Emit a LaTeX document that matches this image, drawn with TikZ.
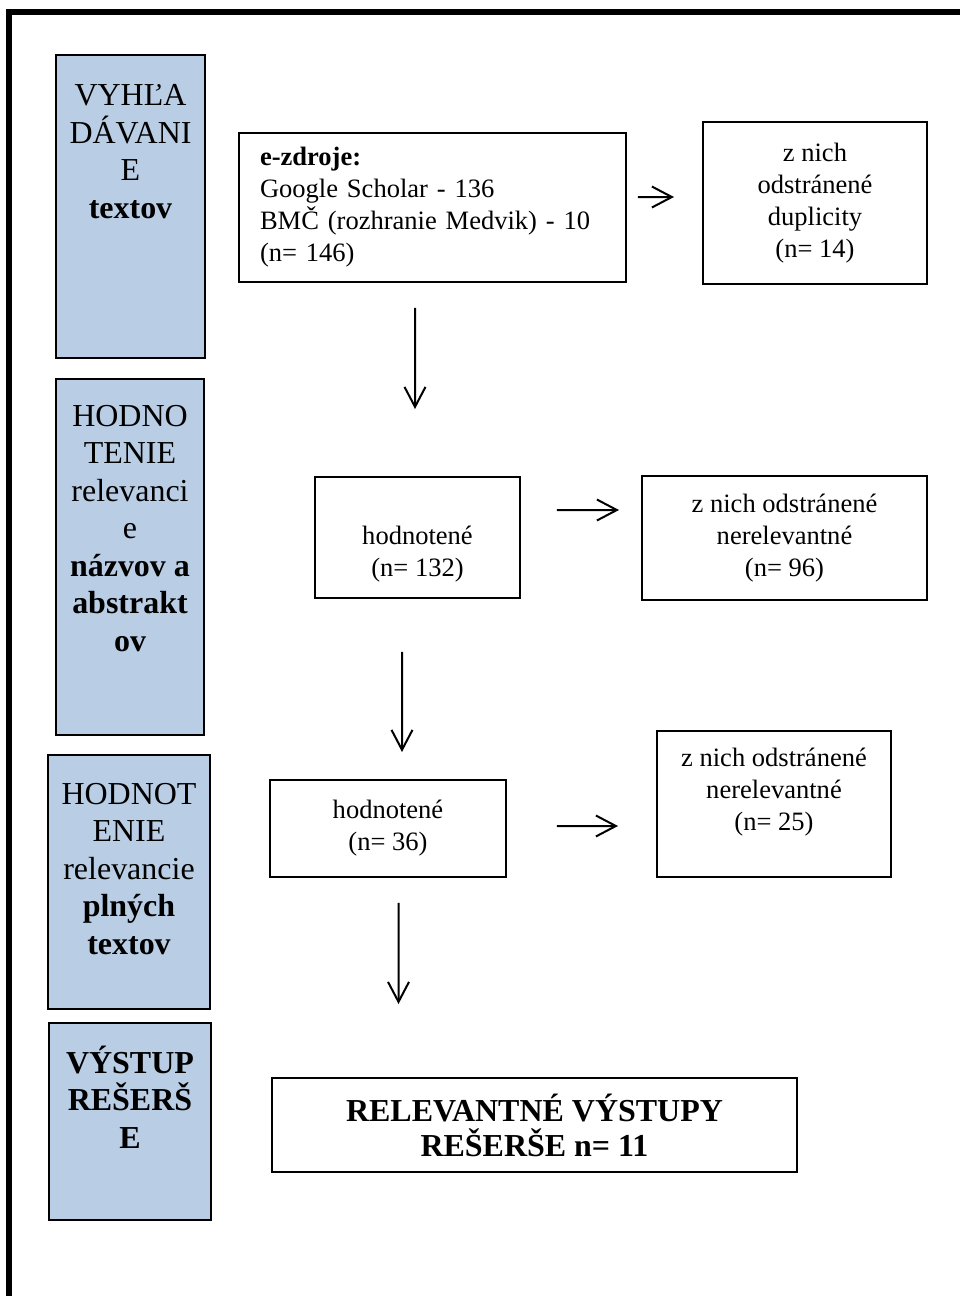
\documentclass[tikz,border=0pt]{standalone}
\usepackage{fontspec}
\setmainfont{Liberation Serif}
\usetikzlibrary{arrows.meta}
\definecolor{phaseblue}{RGB}{185,205,228}
\newcommand{\phasefont}{\fontsize{18.2}{21.3}\selectfont}
\newcommand{\boxfont}{\fontsize{15.1}{18.2}\selectfont}
\newcommand{\outfont}{\fontsize{18.2}{19.9}\selectfont\bfseries}

\begin{document}
\begin{tikzpicture}[
    x=0.02cm, y=-0.02cm,
    frame/.style={draw, line width=0.11cm},
    phase/.style={rectangle, draw, line width=0.045cm, fill=phaseblue, inner sep=0pt},
    phasetext/.style={anchor=base, align=center, font=\phasefont, inner sep=0pt},
    item/.style={rectangle, draw, line width=0.04cm, align=center, font=\boxfont, inner sep=0pt},
    itemtext/.style={anchor=base, align=center, font=\boxfont, inner sep=0pt},
    arrow/.style={-{Straight Barb[length=0.4cm, width=0.42cm]}, line width=0.04cm}
]

% Page and outer frame
\useasboundingbox (0,0) rectangle (960,1296);
\clip (0,0) rectangle (960,1296);
\draw[frame] (9,12) rectangle (1100,1400);

% Left column: phases (labels placed by their last baseline)
\node[phase, minimum width=2.98cm, minimum height=6.06cm] (search) at (130.5,206.5) {};
\node[phasetext] (searchlbl) at (130.5,218) {VYHĽA\\DÁVANI\\E\\\textbf{textov}};

\node[phase, minimum width=2.96cm, minimum height=7.12cm] (screen) at (130,557) {};
\node[phasetext] (screenlbl) at (130,651) {HODNO\\TENIE\\relevanci\\e\\\textbf{názvov a}\\\textbf{abstrakt}\\\textbf{ov}};

\node[phase, minimum width=3.24cm, minimum height=5.08cm] (fulltext) at (129,882) {};
\node[phasetext] (fulltextlbl) at (129,954) {HODNOT\\ENIE\\relevancie\\\textbf{plných}\\\textbf{textov}};

\node[phase, minimum width=3.24cm, minimum height=3.94cm] (output) at (130,1121.5) {};
\node[phasetext] (outputlbl) at (130,1148) {\textbf{VÝSTUP}\\\textbf{REŠERŠ}\\\textbf{E}};

% Sources and duplicities
\node[item, minimum width=7.74cm, minimum height=2.98cm, text width=6.9cm, align=left] (eres) at (432.5,207.5) {\textbf{e-zdroje:}\\Google Scholar - 136\\BMČ (rozhranie Medvik) - 10\\(n= 146)};
\node[item, minimum width=4.48cm, minimum height=3.24cm] (dupl) at (815,203) {z nich\\odstránené\\duplicity\\(n= 14)};

% Titles and abstracts
\node[item, minimum width=4.10cm, minimum height=2.42cm] (eval1) at (417.5,537.5) {};
\node[itemtext] (eval1lbl) at (417.5,576) {hodnotené\\(n= 132)};
\node[item, minimum width=5.70cm, minimum height=2.48cm] (drop1) at (784.5,538) {z nich odstránené\\nerelevantné\\(n= 96)};

% Full texts
\node[item, minimum width=4.72cm, minimum height=1.94cm] (eval2) at (388,828.5) {hodnotené\\(n= 36)};
\node[item, minimum width=4.68cm, minimum height=2.92cm] (drop2) at (774,804) {};
\node[itemtext] (drop2lbl) at (774,830) {z nich odstránené\\nerelevantné\\(n= 25)};

% Result
\node[item, minimum width=10.5cm, minimum height=1.88cm, font=\outfont] (result) at (534.5,1125) {RELEVANTNÉ VÝSTUPY\\REŠERŠE n= 11};

% Arrows
\draw[arrow, shorten <=0.5cm, shorten >=1.34cm] ([xshift=-0.35cm]eres.south) -- ([xshift=-0.05cm]eval1.north);
\draw[arrow, shorten <=0.22cm, shorten >=0.56cm] ([yshift=0.21cm]eres.east) -- ([yshift=0.12cm]dupl.west);
\draw[arrow, shorten <=0.72cm, shorten >=0.44cm] ([yshift=0.55cm]eval1.east) -- ([yshift=0.56cm]drop1.west);
\draw[arrow, shorten <=1.06cm, shorten >=0.54cm] ([xshift=-0.31cm]eval1.south) -- ([xshift=0.28cm]eval2.north);
\draw[arrow, shorten <=1.0cm, shorten >=0.76cm] ([yshift=0.05cm]eval2.east) -- ([yshift=-0.44cm]drop2.west);
\draw[arrow, shorten <=0.5cm, shorten >=1.46cm] ([xshift=0.21cm]eval2.south) -- ([xshift=-2.72cm]result.north);

\end{tikzpicture}
\end{document}
